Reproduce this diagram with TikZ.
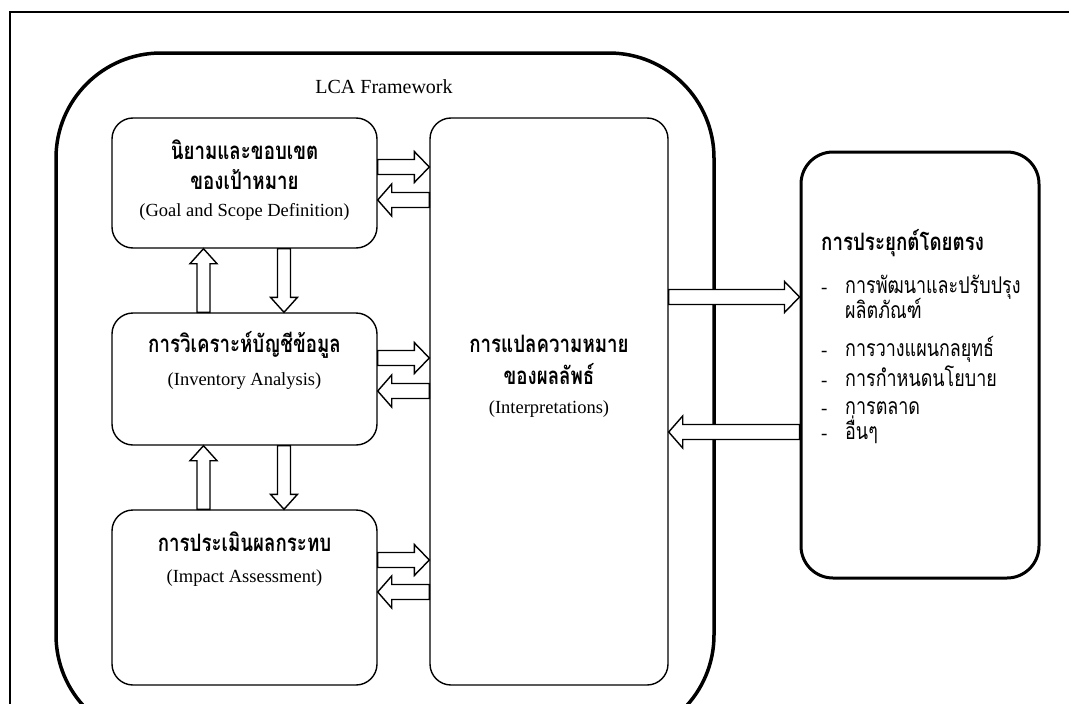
\documentclass[tikz,border=0pt]{standalone}
\usepackage{fontspec}
\setmainfont{Liberation Serif}
\newfontfamily\thai[Script=Thai, FakeStretch=0.78]{Loma}
\usetikzlibrary{calc}

\tikzset{
  stage/.style={draw, line width=1.4pt, rounded corners=21pt, inner sep=0pt},
  appbox/.style={draw, line width=3pt, rounded corners=32pt, inner sep=0pt},
  lca/.style={draw, line width=3.5pt, rounded corners=105pt},
  blk/.style={draw, line width=1.4pt, fill=white, line join=miter},
  en/.style={font=\fontsize{18.5}{20}\selectfont, inner sep=0pt},
  th/.style={font=\thai\bfseries\fontsize{24}{26}\selectfont, inner sep=0pt},
  thn/.style={font=\thai\fontsize{23}{25}\selectfont, inner sep=0pt, anchor=base west},
  dsh/.style={font=\fontsize{19}{20}\selectfont, inner sep=0pt, anchor=base west},
}

% hollow block arrows between two points (horizontal or vertical)
\newcommand\arrowR[2]{\draw[blk] let \p1=(#1),\p2=(#2) in
  (\x1,\y1+7.5pt) -- (\x2-15pt,\y1+7.5pt) -- (\x2-15pt,\y1+15.5pt) -- (\x2,\y1)
  -- (\x2-15pt,\y1-15.5pt) -- (\x2-15pt,\y1-7.5pt) -- (\x1,\y1-7.5pt) -- cycle;}
\newcommand\arrowL[2]{\draw[blk] let \p1=(#1),\p2=(#2) in
  (\x1,\y1+7.5pt) -- (\x2+14pt,\y1+7.5pt) -- (\x2+14pt,\y1+16pt) -- (\x2,\y1)
  -- (\x2+14pt,\y1-16pt) -- (\x2+14pt,\y1-7.5pt) -- (\x1,\y1-7.5pt) -- cycle;}
\newcommand\arrowV[2]{\draw[blk] let \p1=(#1),\p2=(#2),\n1={sign(\y2-\y1)} in
  (\x1-6.5pt,\y1) -- (\x1-6.5pt,\y2-\n1*15pt) -- (\x1-13.5pt,\y2-\n1*15pt) -- (\x2,\y2)
  -- (\x1+13.5pt,\y2-\n1*15pt) -- (\x1+6.5pt,\y2-\n1*15pt) -- (\x1+6.5pt,\y1) -- cycle;}

\begin{document}
\begin{tikzpicture}[x=1pt,y=-1pt]
\useasboundingbox (0,0) rectangle (1069,704);

% page frame (open to the right and bottom)
\draw[line width=1.2pt] (10,760) -- (10,12) -- (1100,12);

% LCA framework outline
\draw[lca] (56,740) -- (56,53) -- (714,53) -- (714,740) -- cycle;
\node[en, font=\fontsize{20}{22}\selectfont] (lcat) at (384,87) {LCA Framework};

% stage boxes
\node[stage, minimum width=265pt, minimum height=130pt] (goal) at (244.5,183) {};
\node[stage, minimum width=265pt, minimum height=132pt] (inv) at (244.5,379) {};
\node[stage, minimum width=265pt, minimum height=175pt] (imp) at (244.5,597.5) {};
\node[stage, minimum width=238pt, minimum height=567pt] (interp) at (549,401.5) {};
\node[appbox, minimum width=238pt, minimum height=426pt] (app) at (920,365) {};

% stage texts
\node[th] (goal1) at (244.5,150) {นิยามและขอบเขต};
\node[th] (goal2) at (244.5,180) {ของเป้าหมาย};
\node[en] (goal3) at (244.5,212) {(Goal and Scope Definition)};

\node[th] (inv1) at (244.5,345) {การวิเคราะห์บัญชีข้อมูล};
\node[en] (inv2) at (244.5,381) {(Inventory Analysis)};

\node[th] (imp1) at (244.5,542) {การประเมินผลกระทบ};
\node[en] (imp2) at (244.5,578) {(Impact Assessment)};

\node[th] (int1) at (549,344) {การแปลความหมาย};
\node[th] (int2) at (549,374) {ของผลลัพธ์};
\node[en] (int3) at (549,409) {(Interpretations)};

% direct applications (positions are baselines)
\node[th, anchor=west] (apt) at (821,243) {การประยุกต์โดยตรง};
\node[dsh] (d1) at (821,293) {-};
\node[thn] (a1) at (845,293) {การพัฒนาและปรับปรุง};
\node[thn] (a1b) at (845,318) {ผลิตภัณฑ์};
\node[dsh] (d2) at (821,356) {-};
\node[thn] (a2) at (845,356) {การวางแผนกลยุทธ์};
\node[dsh] (d3) at (821,386) {-};
\node[thn] (a3) at (845,386) {การกำหนดนโยบาย};
\node[dsh] (d4) at (821,414) {-};
\node[thn] (a4) at (845,414) {การตลาด};
\node[dsh] (d5) at (821,439) {-};
\node[thn] (a5) at (845,439) {อื่นๆ};

% exchanges between stages and interpretation
\arrowR{goal.east |- 0,167}{interp.west |- 0,167}
\arrowL{interp.west |- 0,200}{goal.east |- 0,200}
\arrowR{inv.east |- 0,358}{interp.west |- 0,358}
\arrowL{interp.west |- 0,391}{inv.east |- 0,391}
\arrowR{imp.east |- 0,560}{interp.west |- 0,560}
\arrowL{interp.west |- 0,592}{imp.east |- 0,592}

% exchanges between consecutive stages
\arrowV{inv.north -| 203.5,0}{goal.south -| 203.5,0}
\arrowV{goal.south -| 284,0}{inv.north -| 284,0}
\arrowV{imp.north -| 203.5,0}{inv.south -| 203.5,0}
\arrowV{inv.south -| 284,0}{imp.north -| 284,0}

% interpretation and applications
\arrowR{interp.east |- 0,297}{app.west |- 0,297}
\arrowL{app.west |- 0,432}{interp.east |- 0,432}
\end{tikzpicture}
\end{document}
